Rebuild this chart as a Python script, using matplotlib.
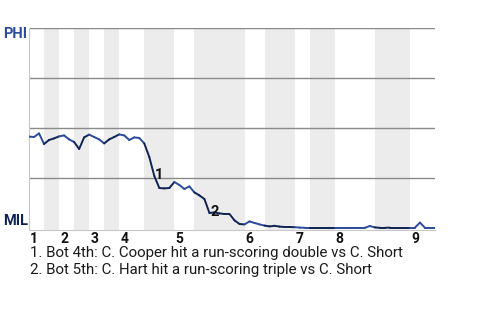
import numpy as np
import matplotlib
matplotlib.use("Agg")
import matplotlib.pyplot as plt
import matplotlib.transforms as mtransforms
from matplotlib.collections import LineCollection

plt.rcParams['font.family'] = ['Roboto', 'DejaVu Sans']

# plate appearances per half inning (top 1, bot 1, ..., top 9)
half_inning_pa = [3, 3, 3, 3, 3, 3, 5, 6, 4, 10, 4, 6, 3, 5, 8, 7, 5]
inning_labels = ["1", "2", "3", "4", "5", "6", "7", "8", "9"]

# PHI win probability (%) after each plate appearance
phi_wp = [45.7, 45.5, 47.3, 42.0, 44.0, 44.8, 45.8, 46.3, 44.3, 43.0,
          39.5, 45.3, 46.7, 45.5, 44.3, 42.3, 44.3, 45.5, 46.8, 46.3,
          44.0, 45.3, 45.0, 42.3, 35.5, 26.0, 20.0, 19.8, 20.0, 23.0,
          21.5, 19.5, 20.8, 17.8, 16.3, 14.5, 7.5, 7.8, 7.3, 7.0,
          7.0, 3.8, 2.0, 1.8, 3.3, 2.5, 1.8, 1.2, 0.8, 1.1,
          0.7, 0.5, 0.5, 0.4, 0.2, 0.1, 0.1, 0.1, 0.1, 0.1,
          0.1, 0.1, 0.1, 0.1, 0.1, 0.1, 0.1, 0.1, 1.0, 0.3,
          0.1, 0.1, 0.2, 0.2, 0.2, 0.2, 0.2, 0.2, 2.7, 0.1,
          0.1, 0.1]

events = [(25, "1"), (36, "2")]
notes = [
    "1. Bot 4th: C. Cooper hit a run-scoring double vs C. Short",
    "2. Bot 5th: C. Hart hit a run-scoring triple vs C. Short",
]

PHI_BLUE = "#2b4c9c"
MIL_NAVY = "#0f2452"

fig = plt.figure(figsize=(4.8, 3.2), dpi=100)
ax = fig.add_axes([29 / 480, 90 / 320, 406 / 480, 202 / 320])

edges = np.concatenate([[0], np.cumsum(half_inning_pa)])
total = edges[-1]

# shade bottom halves
for k in range(len(half_inning_pa)):
    if k % 2 == 1:
        ax.axvspan(edges[k], edges[k + 1], color="#ececec", lw=0, zorder=0)

for yv in [25, 50, 75, 100]:
    ax.axhline(yv, color="#8a8a8a", lw=1.0, zorder=1)

x = np.arange(len(phi_wp))
y = np.array(phi_wp)
segs = [[(x[i], y[i]), (x[i + 1], y[i + 1])] for i in range(len(x) - 1)]
half_of = np.searchsorted(edges, x[:-1], side="right") - 1
cols = [PHI_BLUE if h % 2 == 0 else MIL_NAVY for h in half_of]
ax.add_collection(LineCollection(segs, colors=cols, linewidths=1.4, zorder=3,
                                 capstyle="round", joinstyle="round"))

for i, lab in events:
    ax.text(x[i] + 0.2, y[i] + 0.5, lab, fontsize=10.5, fontweight="bold",
            color="#111111", ha="left", va="center", zorder=4)

ax.set_xlim(0, total)
ax.set_ylim(-1, 100)
ax.set_xticks([])
ax.set_yticks([])
for s in ["top", "right"]:
    ax.spines[s].set_visible(False)
ax.spines["left"].set_color("#c8c8c8")
ax.spines["bottom"].set_color("#c8c8c8")

# inning numbers under each top half start
off = mtransforms.offset_copy(ax.transData, fig=fig, x=1, y=0, units="dots")
trans = mtransforms.blended_transform_factory(off, ax.transAxes)
for n, lab in enumerate(inning_labels):
    ax.text(edges[2 * n], -0.01, lab, transform=trans, ha="left", va="top",
            fontsize=10, fontweight="bold", color="#111111", clip_on=False)

fig.text(3 / 480, 1 - 34 / 320, "PHI", fontsize=10.5, fontweight="bold",
         color=PHI_BLUE, ha="left", va="center")
fig.text(3 / 480, 1 - 221 / 320, "MIL", fontsize=10.5, fontweight="bold",
         color=MIL_NAVY, ha="left", va="center")

for j, note in enumerate(notes):
    fig.text(30 / 480, 1 - (253 + 17 * j) / 320, note, fontsize=10.8,
             color="#1a1a1a", ha="left", va="center")

fig.savefig("out.png", dpi=100, facecolor="white")
